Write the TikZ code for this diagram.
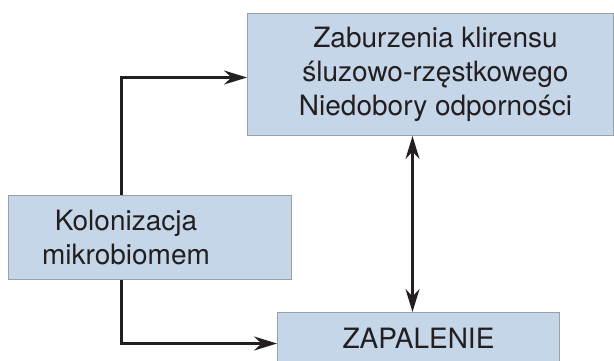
\documentclass[tikz,border=0pt]{standalone}
\usepackage{fontspec}
\setmainfont{TeX Gyre Heros}
\usepackage{xcolor}
\usetikzlibrary{positioning, arrows.meta}
\definecolor{boxfill}{RGB}{197,214,232}
\definecolor{boxline}{RGB}{155,160,165}
\definecolor{ink}{RGB}{35,31,32}

\begin{document}
\begin{tikzpicture}[
            x=1pt,
            y=1pt,
            box/.style={
                    draw=boxline,
                    fill=boxfill,
                    line width=1pt,
                    inner sep=0pt,
                    align=center,
                    text=ink,
                    font=\fontsize{28}{34}\selectfont
                },
            arrow/.style={
                    -{Stealth[length=23pt,width=14pt]},
                    line width=2.5pt,
                    draw=ink
                },
            dblarrow/.style={
                    {Stealth[length=23pt,width=14pt]}-{Stealth[length=23pt,width=14pt]},
                    line width=2.5pt,
                    draw=ink
                }
        ]

        \useasboundingbox (0,0) rectangle (614,-360);


        \node[box,anchor=north west,minimum width=366pt,minimum height=122pt]
        (zaburz) at (247,-13)
        {\hspace*{10pt}Zaburzenia klirensu\\\hspace*{10pt}śluzowo-rzęstkowego\\\hspace*{10pt}Niedobory odporności};


        \node[box,anchor=north west,minimum width=283pt,minimum height=84pt]
        (kolon) at (8,-195)
        {\hspace*{-48pt}Kolonizacja\\\hspace*{-48pt}mikrobiomem};


        \node[box,anchor=north west,minimum width=282pt,minimum height=52pt]
        (zapal) at (277,-312)
        {ZAPALENIE};


        \draw[arrow]([xshift=-28.5pt]kolon.north) |- ([yshift=-3pt]zaburz.west);
        \draw[arrow]([xshift=-28.5pt]kolon.south) |- ([yshift=-5pt]zapal.west);
        \draw[dblarrow]([xshift=-18pt]zaburz.south) -- ([xshift=-6pt]zapal.north);


    \end{tikzpicture}
\end{document}
